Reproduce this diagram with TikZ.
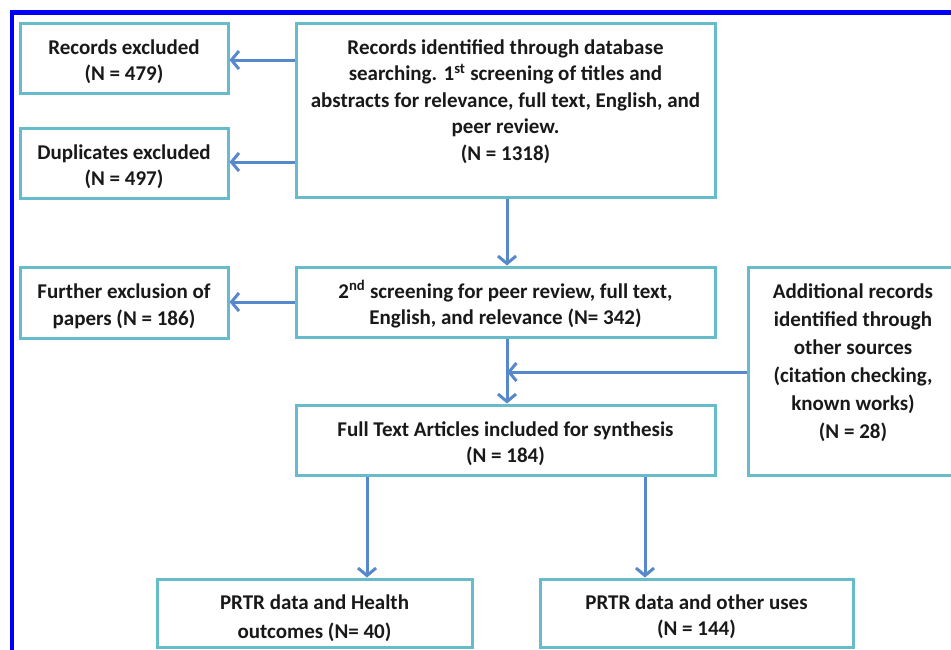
\documentclass[tikz,border=0pt]{standalone}
\usepackage{fontspec}
\setmainfont{Carlito}
\usetikzlibrary{arrows.meta}
\definecolor{boxc}{RGB}{102,188,202}
\definecolor{arrc}{RGB}{88,136,204}
\definecolor{framec}{RGB}{0,0,250}
\newcommand{\dn}{\mbox{}\\[-4pt]}
\tikzset{
  box/.style={draw=boxc, line width=3pt, fill=white, align=center, inner sep=0pt,
    font=\fontsize{21}{26.5}\selectfont\bfseries, text=black!90},
  arr/.style={draw=arrc, line width=3pt, -{Straight Barb[length=7.5pt,width=18pt,line width=3pt]}}
}
\begin{document}
\begin{tikzpicture}[x=1pt,y=-1pt]
\useasboundingbox (0,0) rectangle (951,649);
\clip (0,0) rectangle (951,649);
\fill[white] (0,0) rectangle (951,649);
\draw[framec, line width=4.5pt] (12,700) -- (12,12.5) -- (1000,12.5);
\node[box, minimum width=208pt, minimum height=70pt] (rec) at (124,58) {\dn Records excluded\\(N = 479)};
\node[box, minimum width=208pt, minimum height=70pt] (dup) at (124,163) {\dn Duplicates excluded\\(N = 497)};
\node[box, minimum width=419pt, minimum height=174pt] (main) at (505.5,110) {Records identified through database\\searching. 1\textsuperscript{st} screening of titles and\\abstracts for relevance, full text, English, and\\peer review.\\(N = 1318)\\[-6pt]\mbox{}};
\node[box, minimum width=208pt, minimum height=71pt] (fur) at (124,302.5) {\dn Further exclusion of\\papers (N = 186)};
\node[box, minimum width=419pt, minimum height=70pt] (sec) at (505.5,302) {\dn 2\textsuperscript{nd} screening for peer review, full text,\\English, and relevance (N= 342)};
\node[box, minimum width=419pt, minimum height=70pt] (full) at (505.5,440) {\dn Full Text Articles included for synthesis\\(N = 184)};
\node[box, minimum width=210pt, minimum height=208pt, font=\fontsize{21}{28}\selectfont\bfseries] (add) at (853,371) {Additional records\\identified through\\other sources\\(citation checking,\\known works)\\(N = 28)\\[-8pt]\mbox{}};
\node[box, minimum width=315pt, minimum height=68pt, font=\fontsize{21}{29}\selectfont\bfseries] (hea) at (314.5,613) {\dn PRTR data and Health\\outcomes (N= 40)};
\node[box, minimum width=313pt, minimum height=68pt] (oth) at (696.5,613) {\dn PRTR data and other uses\\(N = 144)};
\coordinate (a1) at (0,60);
\coordinate (a2) at (0,162);
\coordinate (xm) at (507,0);
\coordinate (xh) at (367,0);
\coordinate (xo) at (645,0);
\coordinate (ay) at (0,372);
\draw[arr] (main.west |- a1) -- (rec.east |- a1);
\draw[arr] (main.west |- a2) -- (dup.east |- a2);
\draw[arr] (main.south -| xm) -- (sec.north -| xm);
\draw[arr] (sec.west) -- (fur.east |- sec.west);
\draw[arr] (sec.south -| xm) -- (full.north -| xm);
\draw[arr] (add.west |- ay) -- (xm |- ay);
\draw[arr] (full.south -| xh) -- (hea.north -| xh);
\draw[arr] (full.south -| xo) -- (oth.north -| xo);
\end{tikzpicture}
\end{document}
